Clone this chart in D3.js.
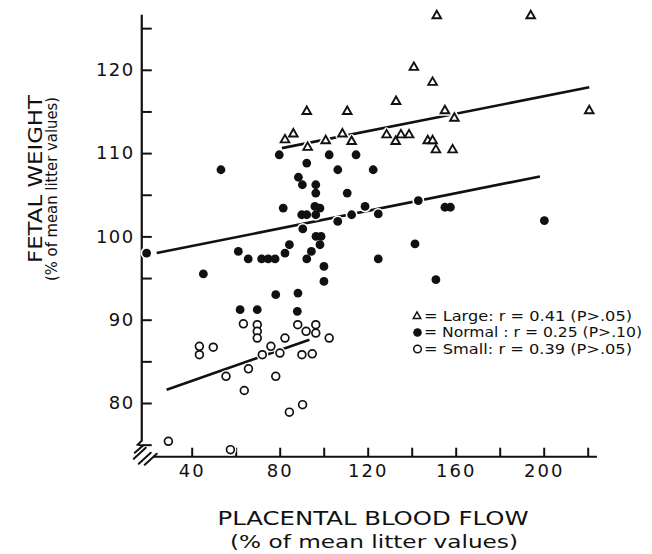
<!DOCTYPE html>
<html><head><meta charset="utf-8">
<script src="https://cdn.jsdelivr.net/npm/d3@7/dist/d3.min.js"></script>
<style>
html,body{margin:0;padding:0;background:#fff;}
svg{display:block;}
text{font-family:"DejaVu Sans",sans-serif;fill:#111;}
</style></head>
<body>
<svg id="chart" width="652" height="554"></svg>
<script>
// ---- data ----
const largeX = [151.4,194.1,141.0,149.5,132.9,92.3,110.7,155.1,159.4,220.7,82.4,86.2,92.7,100.9,108.5,112.7,128.6,132.7,135.1,138.8,147.3,149.5,151.0,158.6];
const largeY = [126.6,126.6,120.4,118.6,116.3,115.1,115.1,115.2,114.3,115.2,111.7,112.4,110.8,111.6,112.4,111.5,112.3,111.5,112.3,112.3,111.6,111.6,110.5,110.5];

const normalX = [53.3,79.8,92.3,102.5,114.7,106.4,122.5,88.5,90.3,96.4,96.4,110.7,118.8,81.6,90.0,92.3,96.0,98.3,96.4,106.4,112.7,124.8,143.0,155.1,157.6,200.3,90.5,96.5,98.8,98.3,84.4,141.5,82.4,19.5,94.4,61.2,92.3,65.7,71.8,74.8,77.9,124.8,100.1,45.3,151.0,100.1,78.2,88.3,62.0,69.8,88.0];
const normalY = [108.0,109.8,108.8,109.8,109.8,108.0,108.0,107.1,106.2,106.2,105.2,105.2,103.6,103.4,102.6,102.6,103.6,103.4,102.6,101.8,102.6,102.7,104.3,103.5,103.5,101.9,100.9,100.0,100.0,99.0,99.0,99.1,98.0,98.0,98.2,98.2,97.3,97.3,97.3,97.3,97.3,97.3,96.4,95.5,94.8,94.6,93.0,93.2,91.2,91.2,91.0];

const smallX = [63.5,69.8,69.8,69.8,43.5,43.5,49.8,82.4,88.2,92.0,96.4,96.4,102.5,76.0,80.1,72.1,90.1,94.8,65.8,55.6,78.2,63.9,84.4,90.4,29.4,57.6];
const smallY = [89.5,89.4,88.6,87.8,86.8,85.8,86.7,87.8,89.4,88.6,89.4,88.4,87.8,86.8,86.0,85.8,85.8,85.9,84.1,83.2,83.2,81.5,78.9,79.8,75.4,74.4];

// fitted regression lines: [x, y] end points
const largeFit  = [[81.0,110.6],[220.7,117.9]];
const normalFit = [[24.1,98.0],[198.3,107.2]];
const smallFit  = [[28.6,81.6],[93.5,87.6]];

const xTicks = [40,60,80,100,120,140,160,180,200,220];
const xTickLabels = [40,80,120,160,200];
const yTicks = [75,80,85,90,95,100,105,110,115,120,125];
const yTickLabels = [80,90,100,110,120];

const legendLabels = ["= Large: r = 0.41 (P>.05)","= Normal : r = 0.25 (P>.10)","= Small: r = 0.39 (P>.05)"];
const xTitle = ["PLACENTAL  BLOOD  FLOW","(% of  mean  litter  values)"];
const yTitle = ["FETAL  WEIGHT","(% of mean litter values)"];

// ---- scales ----
const svg = d3.select("#chart");
const x = d3.scaleLinear().domain([40,200]).range([191.7,543.7]);
const y = d3.scaleLinear().domain([80,120]).range([403,69.8]);

const xAxisStart = 22.4, xAxisEnd = 224.2, xAxisAtY = 73.55;
const yAxisAtX = 17.3, yAxisTop = 126.6, yAxisBottom = 75.5;

// ---- axes ----
const gx = svg.append("g")
  .attr("transform", `translate(0,${y(xAxisAtY)})`)
  .call(d3.axisBottom(x).tickValues(xTicks)
    .tickFormat(d => xTickLabels.includes(d) ? d : "")
    .tickSizeInner(-9).tickSizeOuter(0).tickPadding(8));
gx.select(".domain").remove();
gx.selectAll(".tick line").attr("stroke","#111").attr("stroke-width",2);
gx.selectAll(".tick text").attr("font-size",18).attr("letter-spacing","2px")
  .attr("font-family","DejaVu Sans").attr("fill","#111");
gx.append("line").attr("x1",x(xAxisStart)).attr("x2",x(xAxisEnd))
  .attr("y1",0).attr("y2",0).attr("stroke","#111").attr("stroke-width",2.2);

const gy = svg.append("g")
  .attr("transform", `translate(${x(yAxisAtX)},0)`)
  .call(d3.axisLeft(y).tickValues(yTicks)
    .tickFormat(d => yTickLabels.includes(d) ? d : "")
    .tickSizeInner(-10).tickSizeOuter(0).tickPadding(7));
gy.select(".domain").remove();
gy.selectAll(".tick line").attr("stroke","#111").attr("stroke-width",2);
gy.selectAll(".tick text").attr("font-size",18).attr("letter-spacing","1.5px")
  .attr("font-family","DejaVu Sans").attr("fill","#111");
gy.append("line").attr("x1",0).attr("x2",0)
  .attr("y1",y(yAxisTop)).attr("y2",y(yAxisBottom)).attr("stroke","#111").attr("stroke-width",2.2);

// axis break marks
const bx = x(yAxisAtX), by = y(xAxisAtY);
const brk = svg.append("g").attr("stroke","#111").attr("stroke-width",2).attr("fill","none")
  .attr("stroke-linecap","round");
brk.append("path").attr("d",`M${bx},${by-16} l-4,4 l5,1 l-8,7`);
[[-8,2],[-3,7],[3,8]].forEach(([dx,dy])=>{
  brk.append("line").attr("x1",bx+dx).attr("y1",by+dy).attr("x2",bx+dx+12).attr("y2",by+dy-11);
});

// ---- regression lines ----
const line = d3.line().x(d=>x(d[0])).y(d=>y(d[1]));
[largeFit, normalFit, smallFit].forEach(f=>{
  svg.append("path").attr("d",line(f)).attr("stroke","#111").attr("stroke-width",2.6).attr("fill","none");
});

// ---- markers ----
const tri = (s) => `M0,${-s*0.95}L${s},${s*0.8}L${-s},${s*0.8}Z`;
const large = largeX.map((v,i)=>[v,largeY[i]]);
const normal = normalX.map((v,i)=>[v,normalY[i]]);
const small = smallX.map((v,i)=>[v,smallY[i]]);

const halo = svg.append("g");
halo.selectAll(".hl").data(large).join("path").attr("d",tri(4.3))
  .attr("transform",d=>`translate(${x(d[0])},${y(d[1])})`)
  .attr("fill","#fff").attr("stroke","#fff").attr("stroke-width",5).attr("stroke-linejoin","round");
halo.selectAll(".hn").data(normal).join("circle").attr("cx",d=>x(d[0])).attr("cy",d=>y(d[1]))
  .attr("r",6).attr("fill","#fff");
halo.selectAll(".hs").data(small).join("circle").attr("cx",d=>x(d[0])).attr("cy",d=>y(d[1]))
  .attr("r",6).attr("fill","#fff");

const marks = svg.append("g");
marks.selectAll(".l").data(large).join("path").attr("d",tri(4.3))
  .attr("transform",d=>`translate(${x(d[0])},${y(d[1])})`)
  .attr("fill","#fff").attr("stroke","#111").attr("stroke-width",1.9).attr("stroke-linejoin","miter");
marks.selectAll(".n").data(normal).join("circle").attr("cx",d=>x(d[0])).attr("cy",d=>y(d[1]))
  .attr("r",4.4).attr("fill","#111");
marks.selectAll(".s").data(small).join("circle").attr("cx",d=>x(d[0])).attr("cy",d=>y(d[1]))
  .attr("r",3.9).attr("fill","#fff").attr("stroke","#111").attr("stroke-width",1.7);

// ---- legend ----
const lg = svg.append("g");
const ly = [320.5,337,353.5];
lg.append("path").attr("d",tri(3.8)).attr("transform",`translate(417,${ly[0]-5})`)
  .attr("fill","#fff").attr("stroke","#111").attr("stroke-width",1.5);
lg.append("circle").attr("cx",417.5).attr("cy",ly[1]-4.5).attr("r",4.3).attr("fill","#111");
lg.append("circle").attr("cx",417.5).attr("cy",ly[2]-4.5).attr("r",3.8).attr("fill","#fff").attr("stroke","#111").attr("stroke-width",1.5);
const lw = [208,218,208];
legendLabels.forEach((t,i)=>{
  lg.append("text").attr("x",424).attr("y",ly[i]).attr("font-size",14)
    .attr("font-weight",500)
    .attr("textLength",lw[i]).attr("lengthAdjust","spacingAndGlyphs").text(t);
});

// ---- titles ----
svg.append("text").attr("x",373).attr("y",525).attr("text-anchor","middle")
  .attr("font-size",20).attr("textLength",311).attr("lengthAdjust","spacingAndGlyphs").text(xTitle[0]);
svg.append("text").attr("x",374).attr("y",548).attr("text-anchor","middle")
  .attr("font-size",17).attr("textLength",288).attr("lengthAdjust","spacingAndGlyphs").text(xTitle[1]);
svg.append("text").attr("transform","translate(42,179) rotate(-90)").attr("text-anchor","middle")
  .attr("font-size",20).attr("textLength",168).attr("lengthAdjust","spacingAndGlyphs").text(yTitle[0]);
svg.append("text").attr("transform","translate(57,189) rotate(-90)").attr("text-anchor","middle")
  .attr("font-size",15).attr("textLength",184).attr("lengthAdjust","spacingAndGlyphs").text(yTitle[1]);
</script>
</body></html>
